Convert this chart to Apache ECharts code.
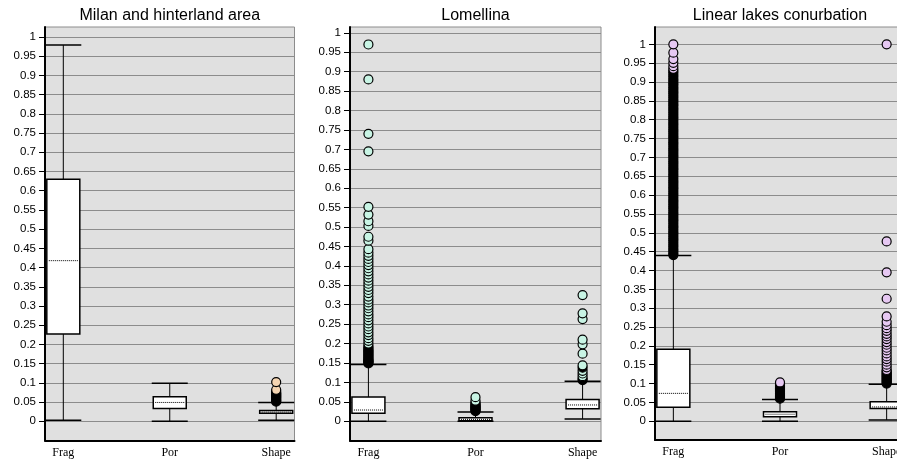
<!DOCTYPE html>
<html>
<head>
<meta charset="utf-8">
<script src="https://cdn.jsdelivr.net/npm/echarts@6/dist/echarts.min.js"></script>
<style>
  html, body { margin: 0; padding: 0; background: #fff; }
  #chart { width: 897px; height: 461px; }
</style>
</head>
<body>
<div id="chart"></div>
<script>
const categories = ['Frag', 'Por', 'Shape'];
const titles = ['Milan and hinterland area', 'Lomellina', 'Linear lakes conurbation'];
const yTicks = [0, 0.05, 0.1, 0.15, 0.2, 0.25, 0.3, 0.35, 0.4, 0.45, 0.5,
  0.55, 0.6, 0.65, 0.7, 0.75, 0.8, 0.85, 0.9, 0.95, 1];

// box stats per category: [low whisker, Q1, median, Q3, high whisker]
const milanStats = [
  [0.003, 0.227, 0.418, 0.63, 0.979],
  [0, 0.033, 0.049, 0.064, 0.099],
  [0.003, 0.021, 0.024, 0.028, 0.049]
];
const lomellinaStats = [
  [0, 0.0205, 0.029, 0.0625, 0.146],
  [0, 0.0015, 0.005, 0.009, 0.024],
  [0.006, 0.032, 0.042, 0.056, 0.103]
];
const lakesStats = [
  [0, 0.037, 0.074, 0.191, 0.44],
  [0, 0.012, 0.0186, 0.025, 0.058],
  [0.0035, 0.034, 0.038, 0.052, 0.098]
];

// outliers (Frag, Por, Shape)
const milanFragOut = [];
const milanPorOut = [];
const milanShapeOut = [0.051, 0.053, 0.055, 0.057, 0.059, 0.061, 0.063, 0.065,
  0.067, 0.069, 0.071, 0.073, 0.075, 0.078, 0.082, 0.102];

const lomellinaFragOut = [0.149, 0.151, 0.153, 0.155, 0.157, 0.159, 0.162, 0.165,
  0.168, 0.171, 0.174, 0.177, 0.18, 0.183, 0.186, 0.19, 0.194, 0.2, 0.207, 0.214,
  0.222, 0.229, 0.237, 0.244, 0.252, 0.26, 0.268, 0.275, 0.283, 0.291, 0.298,
  0.306, 0.313, 0.321, 0.33, 0.338, 0.346, 0.354, 0.362, 0.37, 0.378, 0.386,
  0.394, 0.402, 0.41, 0.418, 0.426, 0.434, 0.443, 0.465, 0.475, 0.503, 0.515,
  0.532, 0.552, 0.695, 0.74, 0.88, 0.97];
const lomellinaPorOut = [0.026, 0.028, 0.03, 0.032, 0.034, 0.036, 0.038, 0.04,
  0.042, 0.045, 0.048, 0.053, 0.062];
const lomellinaShapeOut = [0.106, 0.11, 0.116, 0.123, 0.13, 0.138, 0.144, 0.174,
  0.198, 0.21, 0.263, 0.278, 0.325];

const lakesFragOut = [0.441, 0.446, 0.452, 0.457, 0.463, 0.468, 0.474, 0.48,
  0.485, 0.491, 0.497, 0.502, 0.508, 0.514, 0.519, 0.525, 0.531, 0.536, 0.542,
  0.548, 0.553, 0.559, 0.565, 0.57, 0.576, 0.582, 0.587, 0.593, 0.599, 0.604,
  0.61, 0.616, 0.621, 0.627, 0.633, 0.638, 0.644, 0.65, 0.655, 0.661, 0.667,
  0.672, 0.678, 0.684, 0.689, 0.695, 0.701, 0.706, 0.712, 0.718, 0.723, 0.729,
  0.735, 0.74, 0.746, 0.752, 0.757, 0.763, 0.769, 0.774, 0.78, 0.786, 0.791,
  0.797, 0.803, 0.808, 0.814, 0.82, 0.826, 0.831, 0.837, 0.842, 0.848, 0.853,
  0.859, 0.864, 0.87, 0.875, 0.881, 0.886, 0.892, 0.897, 0.903, 0.908, 0.914,
  0.919, 0.925, 0.93, 0.935, 0.942, 0.951, 0.961, 0.978, 1.0];
const lakesPorOut = [0.06, 0.063, 0.066, 0.069, 0.072, 0.075, 0.078, 0.081,
  0.084, 0.087, 0.09, 0.093, 0.096, 0.099, 0.103];
const lakesShapeOut = [0.1, 0.103, 0.106, 0.109, 0.112, 0.115, 0.118, 0.121,
  0.124, 0.127, 0.13, 0.133, 0.136, 0.143, 0.15, 0.158, 0.165, 0.172, 0.18,
  0.188, 0.195, 0.203, 0.21, 0.218, 0.225, 0.232, 0.24, 0.247, 0.255, 0.264,
  0.278, 0.325, 0.395, 0.477, 1.0];

// panel layout
const panels = [
  { stats: milanStats, outs: [milanFragOut, milanPorOut, milanShapeOut],
    left: 45, right: 602.5, bottom: 20.5, yMax: 1.026, fill: '#f5d5b2' },
  { stats: lomellinaStats, outs: [lomellinaFragOut, lomellinaPorOut, lomellinaShapeOut],
    left: 350, right: 296, bottom: 20.3, yMax: 1.015, fill: '#c8f4e4' },
  { stats: lakesStats, outs: [lakesFragOut, lakesPorOut, lakesShapeOut],
    left: 655, right: -8, bottom: 20.9, yMax: 1.046, fill: '#e6c8f2' }
];

// 画箱子：须线、端线、白色箱体、虚线中位数
function renderBox(params, api) {
  const x = api.value(0);
  const low = api.coord([x, api.value(1)]);
  const q1 = api.coord([x, api.value(2)]);
  const med = api.coord([x, api.value(3)]);
  const q3 = api.coord([x, api.value(4)]);
  const high = api.coord([x, api.value(5)]);
  const cx = low[0];
  const bw = 16.5, cw = 18;
  const line = (x1, y1, x2, y2, extra) => ({
    type: 'line',
    shape: { x1: x1, y1: y1, x2: x2, y2: y2 },
    style: Object.assign({ stroke: '#000', lineWidth: 1 }, extra || {})
  });
  return {
    type: 'group',
    children: [
      line(cx, low[1], cx, q1[1]),
      line(cx, q3[1], cx, high[1]),
      line(cx - cw, low[1], cx + cw, low[1], { lineWidth: 1.5 }),
      line(cx - cw, high[1], cx + cw, high[1], { lineWidth: 1.5 }),
      {
        type: 'rect',
        shape: { x: cx - bw, y: q3[1], width: bw * 2, height: q1[1] - q3[1] },
        style: { fill: '#fff', stroke: '#000', lineWidth: 1.5 }
      },
      line(cx - bw + 2, med[1], cx + bw - 2, med[1], { lineDash: [1, 1] })
    ]
  };
}

// 点很密的地方边框重叠成黑色
function crowded(vals, i) {
  return i < vals.length - 1 && vals[i + 1] - vals[i] < 0.0065;
}

const grid = [], xAxis = [], yAxis = [], title = [], series = [];

panels.forEach(function (p, i) {
  const width = 897 - p.left - p.right;
  grid.push({
    left: p.left, right: p.right, top: 27, bottom: p.bottom,
    show: true, backgroundColor: '#e0e0e0', borderColor: '#8c8c8c', borderWidth: 1,
    containLabel: false, outerBoundsMode: 'none'
  });
  title.push({
    text: titles[i],
    left: p.left + width / 2 - 5,
    top: 3,
    textAlign: 'center',
    textStyle: { fontFamily: 'Liberation Sans', fontWeight: 'normal', fontSize: 16, color: '#000' }
  });
  xAxis.push({
    type: 'value', gridIndex: i, min: 0.828, max: 3.172,
    axisLine: { show: true, onZero: false, lineStyle: { color: '#000', width: 2 } },
    axisTick: { show: false },
    splitLine: { show: false },
    axisLabel: {
      customValues: [1, 2, 3],
      formatter: function (v) { return categories[Math.round(v) - 1] || ''; },
      fontFamily: 'Liberation Serif', fontSize: 12, color: '#000', margin: 6
    }
  });
  yAxis.push({
    type: 'value', gridIndex: i, min: -0.05, max: p.yMax, interval: 0.05,
    axisLine: { show: true, onZero: false, lineStyle: { color: '#000', width: 2 } },
    axisTick: { show: true, length: 6, customValues: yTicks, lineStyle: { color: '#000' } },
    axisLabel: {
      customValues: yTicks,
      formatter: function (v) { return v < -1e-9 ? '' : String(+v.toFixed(2)); },
      fontFamily: 'Liberation Sans', fontSize: 11.5, color: '#000', margin: 9
    },
    splitLine: { show: true, lineStyle: { color: '#8c8c8c', width: 1 } }
  });
  series.push({
    type: 'custom', xAxisIndex: i, yAxisIndex: i,
    renderItem: renderBox,
    data: p.stats.map(function (s, k) { return [k + 1].concat(s); }),
    z: 2
  });
  p.outs.forEach(function (vals, k) {
    const sorted = vals.slice().sort(function (a, b) { return a - b; });
    series.push({
      type: 'scatter', xAxisIndex: i, yAxisIndex: i,
      symbol: 'circle', symbolSize: 9,
      data: sorted.map(function (v) { return [k + 1, v]; }),
      itemStyle: {
        color: function (prm) { return crowded(sorted, prm.dataIndex) ? '#000' : p.fill; },
        borderColor: '#000', borderWidth: 1.2, opacity: 1
      },
      z: 3
    });
  });
});

const myChart = echarts.init(document.getElementById('chart'));
myChart.setOption({
  animation: false,
  title: title,
  grid: grid,
  xAxis: xAxis,
  yAxis: yAxis,
  series: series
});
</script>
</body>
</html>
